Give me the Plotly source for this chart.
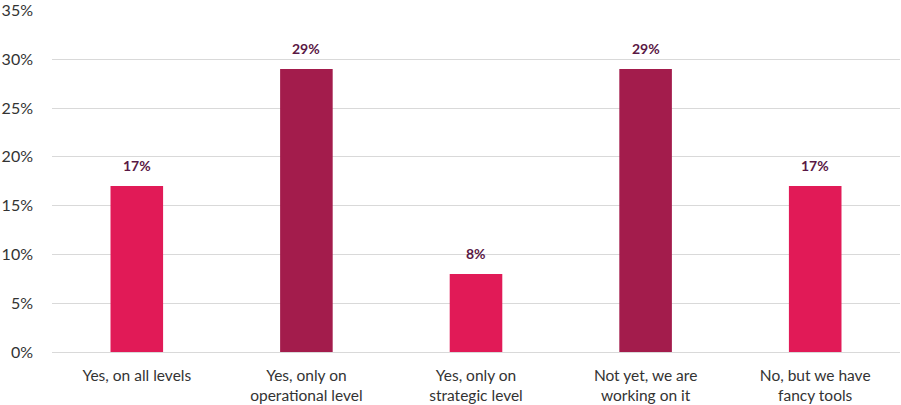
import plotly.graph_objects as go

categories = ['Yes, on all levels', 'Yes, only on<br>operational level', 'Yes, only on<br>strategic level',
              'Not yet, we are<br>working on it', 'No, but we have<br>fancy tools']
values = [17, 29, 8, 29, 17]
colors = ['#E11A57', '#A31C4C', '#E11A57', '#A31C4C', '#E11A57']
tick_vals = [0, 5, 10, 15, 20, 25, 30, 35]
tick_text = ['%d%%' % v for v in tick_vals]

fig = go.Figure()
fig.add_trace(go.Bar(
    x=categories, y=values,
    marker=dict(color=colors, line=dict(width=0)),
))

# value labels above bars
for c, v in zip(categories, values):
    fig.add_annotation(x=c, y=v, text='<b>%d%%</b>' % v, showarrow=False,
                       yanchor='bottom', yshift=10,
                       font=dict(family='Lato', size=14, color='#5A1845'))

fig.update_layout(
    width=901, height=405,
    margin=dict(l=52, r=1, t=10, b=53),
    plot_bgcolor='white', paper_bgcolor='white',
    bargap=0.69,
    showlegend=False,
    font=dict(family='Lato', size=16, color='#333333'),
)
fig.update_yaxes(range=[0, 35.05], tickvals=tick_vals, ticktext=tick_text,
                 gridcolor='#D9D9D9', gridwidth=1, zeroline=False,
                 showline=False, ticks='', ticklabelstandoff=18,
                 ticklabeloverflow='allow', automargin=False)
fig.update_xaxes(showline=True, linecolor='#D9D9D9', linewidth=1,
                 ticks='', ticklabelstandoff=9, tickfont=dict(size=15.5),
                 automargin=False)

# drop the browser's default page margin so the figure fills the window
fig.write_html('out.html', config={'displayModeBar': False},
               post_script="document.body.style.margin='0';")
